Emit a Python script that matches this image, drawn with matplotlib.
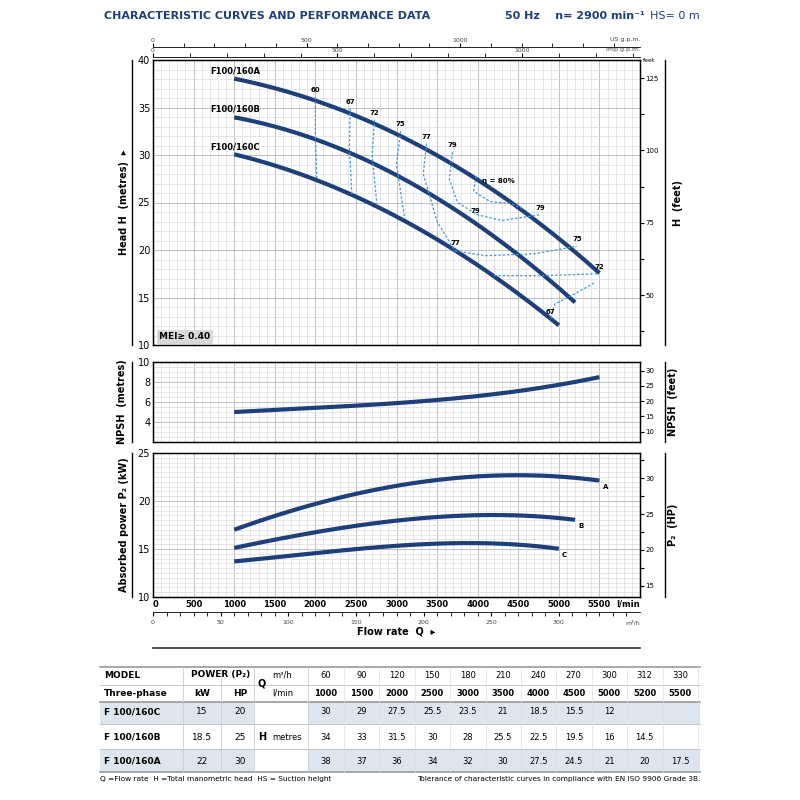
import numpy as np
import matplotlib.pyplot as plt
from matplotlib.patches import Rectangle

# ---- data (l/min, metres, kW) ----
q_table = [1000, 1500, 2000, 2500, 3000, 3500, 4000, 4500, 5000, 5200, 5500]
m3h_table = [60, 90, 120, 150, 180, 210, 240, 270, 300, 312, 330]
h_c = [30, 29, 27.5, 25.5, 23.5, 21, 18.5, 15.5, 12]
h_b = [34, 33, 31.5, 30, 28, 25.5, 22.5, 19.5, 16, 14.5]
h_a = [38, 37, 36, 34, 32, 30, 27.5, 24.5, 21, 20, 17.5]

npsh_q = [1000, 2000, 3000, 4000, 5000, 5500]
npsh_v = [5.0, 5.4, 5.9, 6.6, 7.7, 8.5]

pa_q = [1000, 2000, 3000, 4000, 4600, 5000, 5500]
pa_v = [17.0, 19.7, 21.6, 22.5, 22.7, 22.6, 22.1]
pb_q = [1000, 2000, 3000, 4000, 4700, 5200]
pb_v = [15.1, 16.8, 17.9, 18.5, 18.5, 18.0]
pc_q = [1000, 2000, 3000, 4000, 4500, 5000]
pc_v = [13.7, 14.6, 15.3, 15.6, 15.5, 15.0]

# efficiency iso lines (l/min, m)
iso = {
    "60": [(2000, 36.1), (2000, 32), (2020, 27.4)],
    "67": [(2430, 34.9), (2420, 31), (2450, 25.8)],
    "72": [(2730, 33.7), (2700, 30), (2760, 24.6)],
    "75": [(3050, 32.5), (3000, 29), (3100, 23.3)],
    "77": [(3370, 31.2), (3330, 28), (3500, 23), (3720, 19.9)],
    "79": [(3690, 30.3), (3650, 27.5), (3750, 25), (4000, 23.7), (4300, 23.1), (4600, 23.5), (4770, 23.7)],
    "80": [(3980, 27.8), (3950, 26.2), (4150, 25.1), (4400, 24.9), (4550, 24.4)],
    "77b": [(3720, 19.9), (4100, 19.4), (4700, 19.6), (5224, 20.4)],
    "72b": [(4200, 17.3), (4800, 17.3), (5500, 17.5)],
    "67b": [(4900, 12.8), (4950, 14.3), (5200, 15.4), (5450, 16.6)],
}
iso_labels = [("60", 2000, 36.1), ("67", 2430, 34.9), ("72", 2730, 33.7), ("75", 3050, 32.5),
              ("77", 3370, 31.2), ("79", 3690, 30.3), ("79", 3970, 23.4), ("79", 4770, 23.7),
              ("77", 3720, 20.0), ("75", 5224, 20.4), ("72", 5500, 17.5), ("67", 4900, 12.8)]

NAVY = "#1d3f7a"
LB = "#3f9ad6"
GRID = "#dcdcdc"

fig = plt.figure(figsize=(8, 8), dpi=100)


def box(l, t, r, b):
    return fig.add_axes([l / 800, 1 - b / 800, (r - l) / 800, (b - t) / 800])


def grid_setup(ax, ymin, ymax, ystep):
    ax.set_xlim(0, 6000)
    ax.set_ylim(ymin, ymax)
    ax.set_xticks(np.arange(0, 6001, 100), minor=True)
    ax.set_yticks(np.arange(ymin, ymax + 0.01, ystep), minor=True)
    ax.grid(which="minor", color=GRID, lw=0.5)
    ax.grid(which="major", color="#b5b5b5", lw=0.6)
    ax.set_xticks(np.arange(0, 6001, 500))
    ax.tick_params(which="both", length=0, labelsize=7)
    ax.set_xticklabels([])
    for s in ax.spines.values():
        s.set_linewidth(1.0)


def curve(ax, x, y, lw=3):
    xs = np.linspace(x[0], x[-1], 200)
    k = min(3, len(x) - 1)
    c = np.polyfit(x, y, k)
    ax.plot(xs, np.polyval(c, xs), color=NAVY, lw=lw, solid_capstyle="butt")


# ---- main head chart ----
ax = box(153, 60, 640, 345)
grid_setup(ax, 10, 40, 1)
ax.set_yticks([10, 15, 20, 25, 30, 35, 40])
ax.tick_params(axis="y", labelsize=7, pad=2)
for h in (h_a, h_b, h_c):
    curve(ax, q_table[:len(h)], h)
for k, pts in iso.items():
    px, py = zip(*pts)
    t = np.linspace(0, 1, len(px))
    tt = np.linspace(0, 1, 80)
    ax.plot(np.interp(tt, t, px), np.interp(tt, t, py), ls=(0, (2, 1.5)), color=LB, lw=0.9)
for lab, x, y in iso_labels:
    ax.text(x, y + 0.4, lab, fontsize=5, fontweight="bold", ha="center", va="bottom")
ax.text(4050, 27.0, "η = 80%", fontsize=5, fontweight="bold")
ax.text(700, 38.6, "F100/160A", fontsize=6, fontweight="bold", ha="left")
ax.text(700, 34.6, "F100/160B", fontsize=6, fontweight="bold", ha="left")
ax.text(700, 30.6, "F100/160C", fontsize=6, fontweight="bold", ha="left")
ax.text(80, 10.6, "MEI≥ 0.40", fontsize=6.5, fontweight="bold",
        bbox=dict(boxstyle="square,pad=0.3", fc="#d9d9d9", ec="none"))
ax.set_ylabel("Head H  (metres)  ▸", fontsize=7, fontweight="bold", labelpad=6)
ft = ax.twinx()
ft.set_ylim(10 / 0.3048, 40 / 0.3048)
ft.set_yticks(np.arange(37.5, 131, 12.5))
ft.set_yticklabels(["" if v % 25 else f"{v:.0f}" for v in np.arange(37.5, 131, 12.5)])
ft.tick_params(labelsize=5, length=3, pad=1)
ft.set_ylabel("H  (feet)", fontsize=7, fontweight="bold", labelpad=10)
ft.text(1.005, 131, "feet", fontsize=4.5, transform=ft.get_yaxis_transform(), va="center")

# gpm scales on top
for top, lim, lab in [(47, 6000 / 3.785, "US g.p.m."), (57, 6000 / 4.546, "Imp g.p.m.")]:
    g = box(153, top - 5, 640, top)
    g.set_xlim(0, lim)
    g.set_yticks([])
    for s in ("top", "left", "right"):
        g.spines[s].set_visible(False)
    g.spines["bottom"].set_linewidth(0.6)
    g.set_xticks(np.arange(0, lim, 100), minor=True)
    g.set_xticks([0, 500, 1000])
    g.tick_params(which="both", direction="in", length=3, labelbottom=False, labeltop=False)
    for v in (0, 500, 1000):
        g.text(v, 1.1, str(v), fontsize=4.5, ha="center", color="#444", transform=g.get_xaxis_transform())
    g.text(lim, 1.1, lab, fontsize=4.5, ha="right", color="#444", transform=g.get_xaxis_transform())

# ---- NPSH ----
an = box(153, 362, 640, 442)
grid_setup(an, 2, 10, 0.5)
an.set_yticks([4, 6, 8, 10])
an.tick_params(axis="y", labelsize=7, pad=2)
curve(an, npsh_q, npsh_v)
an.set_ylabel("NPSH  (metres)", fontsize=7, fontweight="bold", labelpad=8)
nf = an.twinx()
nf.set_ylim(2 / 0.3048, 10 / 0.3048)
nf.set_yticks([10, 15, 20, 25, 30])
nf.tick_params(labelsize=5, length=3, pad=1)
nf.set_ylabel("NPSH  (feet)", fontsize=7, fontweight="bold", labelpad=10)

# ---- power ----
ap = box(153, 453, 640, 597)
grid_setup(ap, 10, 25, 0.5)
ap.set_yticks([10, 15, 20, 25])
ap.tick_params(axis="y", labelsize=7, pad=2)
for qq, vv, lab in [(pa_q, pa_v, "A"), (pb_q, pb_v, "B"), (pc_q, pc_v, "C")]:
    curve(ap, qq, vv)
    ap.text(qq[-1] + 40, vv[-1] - 0.3, lab, fontsize=5, fontweight="bold", va="top")
ap.set_ylabel("Absorbed power P₂ (kW)", fontsize=7, fontweight="bold", labelpad=6)
for v in range(0, 6000, 500):
    ap.text(v, -0.02, str(v), fontsize=6, fontweight="bold", ha="left" if v == 0 else "center",
            va="top", transform=ap.get_xaxis_transform())
ap.text(6000, -0.02, "l/min", fontsize=6, fontweight="bold", ha="right", va="top",
        transform=ap.get_xaxis_transform())
hp = ap.twinx()
hp.set_ylim(10 * 1.341, 25 * 1.341)
hp.set_yticks(np.arange(15, 33, 2.5))
hp.set_yticklabels(["" if v % 5 else f"{v:.0f}" for v in np.arange(15, 33, 2.5)])
hp.tick_params(labelsize=5, length=3, pad=1)
hp.set_ylabel("P₂  (HP)", fontsize=7, fontweight="bold", labelpad=10)

# m3/h scale
m = box(153, 612, 640, 617)
m.set_xlim(0, 360)
m.set_yticks([])
for s in ("bottom", "left", "right"):
    m.spines[s].set_visible(False)
m.spines["top"].set_linewidth(0.6)
m.xaxis.set_ticks_position("top")
m.set_xticks(np.arange(0, 360, 10), minor=True)
m.set_xticks(np.arange(0, 301, 50))
m.tick_params(which="both", direction="in", length=3, labeltop=False, labelbottom=False)
for v in range(0, 301, 50):
    m.text(v, -0.6, str(v), fontsize=4.5, ha="center", va="top", color="#444", transform=m.get_xaxis_transform())
m.text(360, -0.6, "m³/h", fontsize=4.5, ha="right", va="top", color="#444", transform=m.get_xaxis_transform())

# ---- decorations / text in pixel coords ----
ov = fig.add_axes([0, 0, 1, 1], zorder=-1)
ov.set_xlim(0, 800)
ov.set_ylim(800, 0)
ov.axis("off")
for t, b in [(60, 345), (362, 442), (453, 597)]:
    ov.plot([132, 132], [t, b], color="k", lw=1)
    ov.plot([665, 665], [t, b], color="k", lw=1)
ov.plot([153, 640], [648, 648], color="#333", lw=1.2)
ov.text(396, 632, "Flow rate  Q  ▸", fontsize=7, fontweight="bold", ha="center", va="center")
ov.text(104, 16, "CHARACTERISTIC CURVES AND PERFORMANCE DATA", fontsize=8, fontweight="bold",
        color="#1d3f7a", va="center")
ov.text(505, 16, "50 Hz    n= 2900 min⁻¹", fontsize=8, fontweight="bold", color="#1d3f7a", va="center")
ov.text(700, 16, "HS= 0 m", fontsize=8, color="#1d3f7a", va="center", ha="right")

# ---- table ----
SH = "#dde5ee"
ov.add_patch(Rectangle((100, 702), 600, 22, fc=SH, ec="none"))
ov.add_patch(Rectangle((100, 749), 600, 23, fc=SH, ec="none"))
ov.add_patch(Rectangle((254, 702), 54, 70, fc="white", ec="none"))
for y, c, lw in [(667, "#999", 1.2), (685, "#bbb", 0.6), (702, "#999", 1.2), (724, "#bbb", 0.6),
                 (749, "#bbb", 0.6), (772, "#999", 1.2)]:
    ov.plot([100, 700], [y, y], color=c, lw=lw)
for x in [183, 221, 254, 308]:
    ov.plot([x, x], [667, 772], color="#ccc", lw=0.6)
for x in np.arange(344, 700, 35.4):
    ov.plot([x, x], [667, 772], color="#ddd", lw=0.5)
fs = 6.5
ov.text(104, 675, "MODEL", fontsize=fs, fontweight="bold", va="center")
ov.text(104, 693, "Three-phase", fontsize=fs, fontweight="bold", va="center")
ov.text(221, 675, "POWER (P₂)", fontsize=fs, fontweight="bold", va="center", ha="center")
ov.text(202, 693, "kW", fontsize=fs, fontweight="bold", va="center", ha="center")
ov.text(240, 693, "HP", fontsize=fs, fontweight="bold", va="center", ha="center")
ov.text(262, 684, "Q", fontsize=7, fontweight="bold", va="center", ha="center")
ov.text(272, 675, "m³/h", fontsize=fs - 0.5, va="center")
ov.text(272, 693, "l/min", fontsize=fs - 0.5, va="center")
ov.text(262, 737, "H", fontsize=7, fontweight="bold", va="center", ha="center")
ov.text(272, 737, "metres", fontsize=fs - 0.5, va="center")
xs = np.arange(326, 700, 35.4)
for i, x in enumerate(xs):
    ov.text(x, 675, str(m3h_table[i]), fontsize=fs - 0.5, ha="center", va="center")
    ov.text(x, 693, str(q_table[i]), fontsize=fs - 0.5, fontweight="bold", ha="center", va="center")
rows = [("F 100/160C", "15", "20", h_c, 712), ("F 100/160B", "18.5", "25", h_b, 737),
        ("F 100/160A", "22", "30", h_a, 761)]
for name, kw, hpv, hv, y in rows:
    ov.text(104, y, name, fontsize=fs, fontweight="bold", va="center")
    ov.text(202, y, kw, fontsize=fs, ha="center", va="center")
    ov.text(240, y, hpv, fontsize=fs, ha="center", va="center")
    for i, v in enumerate(hv):
        ov.text(xs[i], y, f"{v:g}", fontsize=fs - 0.5, ha="center", va="center")
ov.text(100, 779, "Q =Flow rate  H =Total manometric head  HS = Suction height", fontsize=5.3, va="center")
ov.text(700, 779, "Tolerance of characteristic curves in compliance with EN ISO 9906 Grade 3B.",
        fontsize=5.3, va="center", ha="right")

fig.savefig("out.png", dpi=100)
